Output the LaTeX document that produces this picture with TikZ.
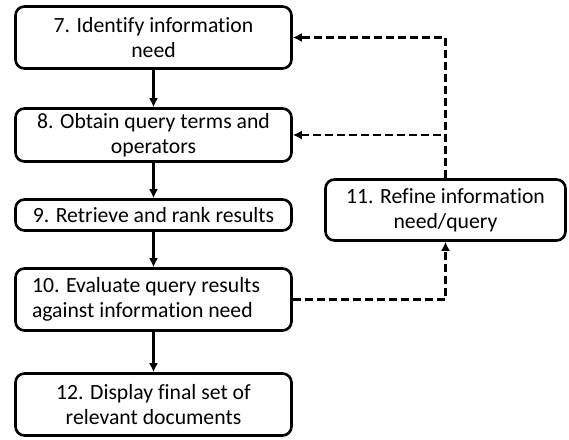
\documentclass[tikz,border=0pt]{standalone}
\usepackage{fontspec}
\setmainfont{Carlito}[Ligatures=NoCommon]
\usetikzlibrary{positioning}
\usetikzlibrary{arrows.meta}

\begin{document}
\begin{tikzpicture}[x=1pt,y=-1pt,
							stepbox/.style={rectangle, rounded corners=9pt, draw=black, line width=2.6pt, fill=white, minimum width=276pt, minimum height=62pt, align=center, inner sep=2pt, font=\fontsize{21.7}{25}\selectfont},
							flow/.style={line width=2.4pt, -{Latex[length=9pt,width=9pt]}},
							loopback/.style={line width=2.4pt, dash pattern=on 8pt off 4pt, -{Latex[length=9pt,width=9pt]}},
							]
							\useasboundingbox (0,0) rectangle (569,439);
							%Nodes
							\node[stepbox]                        (n7)  at (153.5,37.5)  {7. Identify information\\need};
							\node[stepbox, minimum height=53pt]   (n8)  at (153.5,135)   {8. Obtain query terms and\\operators};
							\node[stepbox, minimum height=31pt]   (n9)  at (153.5,215)   {9. Retrieve and rank results};
							\node[stepbox, align=flush left, text width=243pt] (n10) at (153.5,299.5) {10. Evaluate query results\\against information need};
							\node[stepbox, minimum width=240pt, minimum height=61pt] (n11) at (445.5,210) {11. Refine information\\need/query};
							\node[stepbox]                        (n12) at (153.5,404.5) {12. Display final set of\\relevant documents};
							
							\draw[flow] (n7)  -- (n8);
							\draw[flow] (n8)  -- (n9);
							\draw[flow] (n9)  -- (n10);
							\draw[flow] (n10) -- (n12);
							\draw[loopback] (n10.east) -| (n11.south);
							\draw[loopback] (n11.north) |- (n7.east);
							\draw[loopback] (n11.north) |- (n8.east);
\end{tikzpicture}
\end{document}
